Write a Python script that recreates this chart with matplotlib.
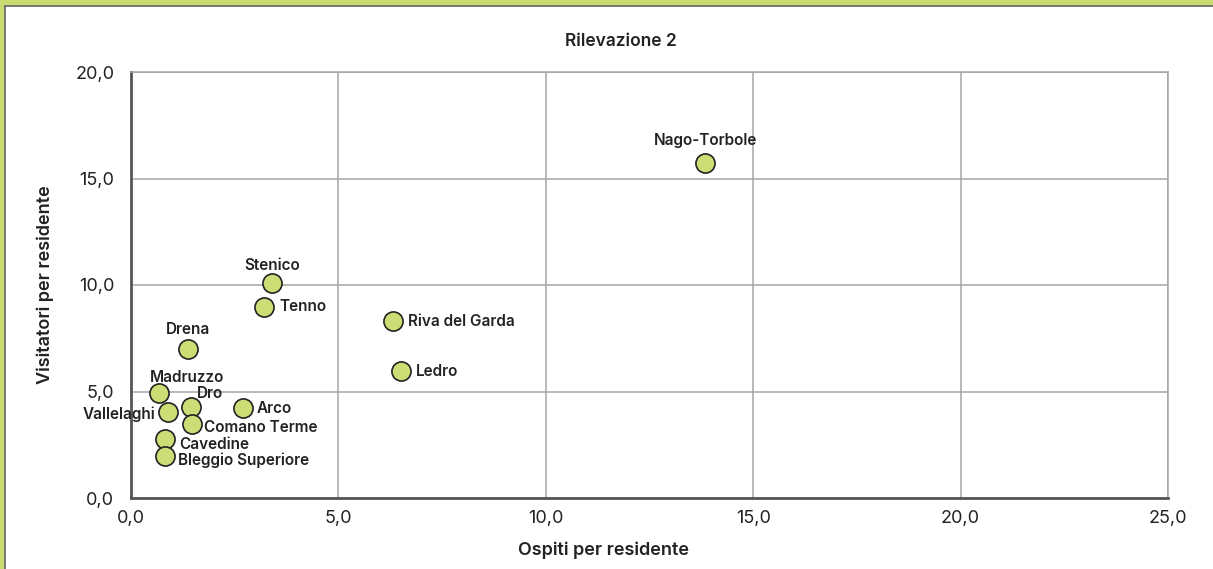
import matplotlib
matplotlib.use("Agg")
import matplotlib.pyplot as plt
from matplotlib.patches import Rectangle
from matplotlib.lines import Line2D
from matplotlib.ticker import FuncFormatter, MultipleLocator

names = ["Nago-Torbole", "Stenico", "Tenno", "Drena", "Riva del Garda", "Ledro",
         "Madruzzo", "Dro", "Vallelaghi", "Arco", "Comano Terme", "Cavedine",
         "Bleggio Superiore"]
ospiti = [13.84, 3.40, 3.21, 1.37, 6.32, 6.51, 0.67, 1.45, 0.90, 2.70, 1.47, 0.83, 0.83]
visitatori = [15.73, 10.08, 8.97, 7.00, 8.30, 5.96, 4.94, 4.27, 4.03, 4.22, 3.48, 2.77, 1.95]

# label offsets in pixels (layout only)
offsets = {
    "Nago-Torbole": (0, 22, "center"),
    "Stenico": (0, 18, "center"),
    "Tenno": (15, 0, "left"),
    "Drena": (0, 19, "center"),
    "Riva del Garda": (15, 0, "left"),
    "Ledro": (15, 0, "left"),
    "Madruzzo": (28, 15, "center"),
    "Dro": (6, 14, "left"),
    "Vallelaghi": (-13, -2, "right"),
    "Arco": (14, 0, "left"),
    "Comano Terme": (12, -4, "left"),
    "Cavedine": (14, -6, "left"),
    "Bleggio Superiore": (13, -4, "left"),
}

plt.rcParams['font.family'] = ['Inter', 'DejaVu Sans']
W, H = 1213, 569
fig = plt.figure(figsize=(W / 100, H / 100), dpi=100)
fig.patch.set_facecolor('#c9dc72')
fig.patches.append(Rectangle((4.5 / W, -0.1), 1.2, (H - 5.5) / H + 0.1, transform=fig.transFigure,
                             facecolor='white', edgecolor='none', zorder=-10))
fig.lines.append(Line2D([4.5 / W, 4.5 / W], [0, (H - 5.5) / H], transform=fig.transFigure,
                        color='#6e6e6e', linewidth=1.3, zorder=-9))
fig.lines.append(Line2D([4.5 / W, 1], [(H - 5.5) / H, (H - 5.5) / H], transform=fig.transFigure,
                        color='#6e6e6e', linewidth=1.3, zorder=-9))

ax = fig.add_axes([131 / W, 1 - 498 / H, (1168 - 131) / W, (498 - 72) / H])
ax.set_facecolor('none')
ax.set_xlim(0, 25)
ax.set_ylim(0, 20)
ax.xaxis.set_major_locator(MultipleLocator(5))
ax.yaxis.set_major_locator(MultipleLocator(5))
fmt = FuncFormatter(lambda v, p: f"{v:.1f}".replace(".", ","))
ax.xaxis.set_major_formatter(fmt)
ax.yaxis.set_major_formatter(fmt)
ax.grid(True, color='#a5a5a5', linewidth=1.1)
ax.set_axisbelow(True)
ax.tick_params(axis='x', length=0, labelsize=13, colors='#222222', pad=9)
ax.tick_params(axis='y', length=0, labelsize=13, colors='#222222', pad=12)
for s in ['top', 'right']:
    ax.spines[s].set_color('#a5a5a5')
    ax.spines[s].set_linewidth(1.1)
for s in ['left', 'bottom']:
    ax.spines[s].set_color('#555555')
    ax.spines[s].set_linewidth(2)

ax.scatter(ospiti, visitatori, s=190, facecolor='#cbdd74', edgecolor='#222222',
           linewidth=1.2, zorder=3)
for n, x, y in zip(names, ospiti, visitatori):
    dx, dy, ha = offsets[n]
    ax.annotate(n, (x, y), xytext=(dx * 0.72, dy * 0.72), textcoords='offset points',
                ha=ha, va='center', fontsize=11, fontweight='semibold', color='#222222',
                zorder=4)

fig.text(621 / W, 1 - 41 / H, "Rilevazione 2", ha='center', va='center',
         fontsize=12.5, fontweight='semibold', color='#222222')
fig.text(604 / W, 1 - 550 / H, "Ospiti per residente", ha='center', va='center',
         fontsize=13, fontweight='semibold', color='#222222')
fig.text(45 / W, 1 - 285 / H, "Visitatori per residente", ha='center', va='center',
         rotation=90, fontsize=13, fontweight='semibold', color='#222222')

fig.savefig("out.png", dpi=100, facecolor=fig.get_facecolor())
